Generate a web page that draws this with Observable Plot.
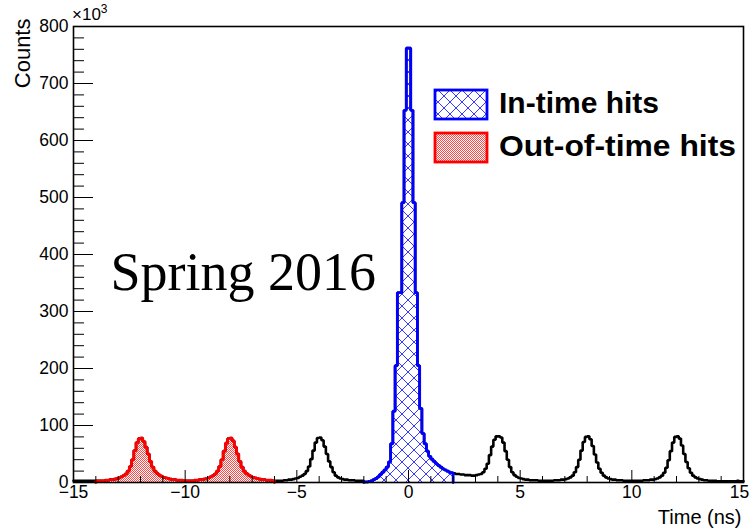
<!DOCTYPE html>
<html><head><meta charset="utf-8">
<script src="https://cdn.jsdelivr.net/npm/d3@7"></script>
<script src="https://cdn.jsdelivr.net/npm/@observablehq/plot@0.6"></script>
<style>
html,body{margin:0;padding:0;background:#fff;}
#chart{width:751px;height:530px;}
</style></head><body><div id="chart"></div>
<script>
// Histogram: 0.1 ns bins from -15 to 15 ns, counts in units of 10^3
const binStart = -15, binWidth = 0.1;
// bins -15.0 .. -14.1
const countsFarLeft = [3,3,3,3,3,3,3,3,3,3];
// bins -14.0 .. -6.1 (out-of-time window)
const countsOutOfTime = [
  3,3,3,3,4,4,5,
  5,6,7,8,10,12,15,20,28,40,56,70,77,78,72,62,50,37,27,20,16,13,11,9,8,7,6,5,5,4,4,4,3,
  3,3,3,3,4,4,5,5,6,7,
  8,10,12,15,20,28,40,55,69,77,
  78,73,62,50,37,27,20,16,13,11,
  9,8,7,6,5,5,4,4,4,3
];
// bins -6.0 .. -2.1
const countsMid = [
  3,3,3,3,4,4,5,5,6,7,
  8,10,12,15,20,28,41,56,70,78,
  79,74,63,50,37,27,18,12,9,7,
  6,5,5,4,4,4,3,3,3,3
];
// bins -2.0 .. 1.9 (in-time window)
const countsInTime = [
  1,1,2,3,5,7,10,14,18,22,
  27,36,68,125,205,333,333,491,653,762,
  762,653,491,333,205,130,86,68,55,46,
  41,37,33,30,27,24,22,20,18,17
];
// bins 2.0 .. 14.9
const countsRight = [
  16,15,15,14,14,13,13,13,12,12,
  13,14,15,18,24,33,48,63,75,81,
  81,79,70,55,40,27,18,13,10,8,
  7,6,5,5,4,4,4,4,3,3,
  3,3,3,3,3,4,4,4,5,5,
  6,7,9,12,18,27,40,56,71,80,
  81,76,64,49,35,24,17,12,9,7,
  6,5,5,4,4,4,3,3,3,3,
  3,3,3,3,3,4,4,4,5,5,
  6,7,9,12,17,26,39,55,70,80,
  81,77,65,50,36,25,17,12,9,7,
  6,5,4,4,3,3,3,3,2,2,
  2,2,2,2,2,2,2,3,2,2
];
const inTimeWindow = [-2, 2];
const outOfTimeWindow = [-14, -6];
const xMajorTicks = [-15,-10,-5,0,5,10,15];
const xMinorTicks = [-14,-13,-12,-11,-9,-8,-7,-6,-4,-3,-2,-1,1,2,3,4,6,7,8,9,11,12,13,14];
const yMajorTicks = [0,100,200,300,400,500,600,700,800];
const yMinorTicks = d3.range(0, 801, 20).filter(v => v % 100 !== 0);
const legendLabels = ["In-time hits", "Out-of-time hits"];
const annotation = "Spring 2016";

const counts = [].concat(countsFarLeft, countsOutOfTime, countsMid, countsInTime, countsRight);
const bins = counts.map((v, i) => ({
  x0: Math.round((binStart + i * binWidth) * 10) / 10,
  x1: Math.round((binStart + (i + 1) * binWidth) * 10) / 10,
  v
}));
function stepPoints(bs, closed) {
  const pts = [];
  if (closed) pts.push({x: bs[0].x0, y: 0});
  for (const b of bs) { pts.push({x: b.x0, y: b.v}); pts.push({x: b.x1, y: b.v}); }
  if (closed) pts.push({x: bs[bs.length - 1].x1, y: 0});
  return pts;
}
const inWin = (w) => (b) => b.x0 >= w[0] - 1e-9 && b.x1 <= w[1] + 1e-9;
const allPts = stepPoints(bins, false);
const inPts = stepPoints(bins.filter(inWin(inTimeWindow)), true);
const outPts = stepPoints(bins.filter(inWin(outOfTimeWindow)), true);

const W = 751, H = 530, mL = 73, mR = 8, mT = 26, mB = 48;
const plotW = W - mL - mR, plotH = H - mT - mB;
const sans = "'Liberation Sans', Arial, sans-serif";
const lastTick = xMajorTicks[xMajorTicks.length - 1];

const plot = Plot.plot({
  width: W, height: H,
  marginLeft: mL, marginRight: mR, marginTop: mT, marginBottom: mB,
  style: {fontFamily: sans, fontSize: "17.5px", background: "#fff", color: "#000", overflow: "visible"},
  x: {domain: [-15, 15]},
  y: {domain: [0, 800]},
  marks: [
    Plot.area(outPts, {x1: "x", y1: 0, y2: "y", fill: "url(#dots)"}),
    Plot.area(inPts, {x1: "x", y1: 0, y2: "y", fill: "url(#xhatch)"}),
    Plot.line(allPts, {x: "x", y: "y", stroke: "#000", strokeWidth: 2.6, strokeLinejoin: "miter"}),
    Plot.line(outPts, {x: "x", y: "y", stroke: "#ff0000", strokeWidth: 2.8, strokeLinejoin: "miter"}),
    Plot.line(inPts, {x: "x", y: "y", stroke: "#0000ff", strokeWidth: 2.8, strokeLinejoin: "miter"}),
    Plot.ruleX(xMinorTicks, {x: d => d, insetTop: plotH - 6, stroke: "#000", strokeWidth: 1}),
    Plot.ruleX(xMajorTicks, {x: d => d, insetTop: plotH - 12, stroke: "#000", strokeWidth: 1}),
    Plot.ruleY(yMinorTicks, {y: d => d, insetRight: plotW - 11, stroke: "#000", strokeWidth: 1}),
    Plot.ruleY(yMajorTicks, {y: d => d, insetRight: plotW - 20, stroke: "#000", strokeWidth: 1}),
    Plot.frame({stroke: "#000", strokeWidth: 1.6}),
    Plot.axisX(xMajorTicks.filter(t => t !== lastTick), {tickSize: 0, tickPadding: 3, label: null}),
    Plot.axisX([lastTick], {tickSize: 0, tickPadding: 3, label: null, dx: -4}),
    Plot.axisY(yMajorTicks, {tickSize: 0, tickPadding: 5, label: null}),
    Plot.text(["Time (ns)"], {frameAnchor: "bottom-right", dx: -2, dy: 41, textAnchor: "end", fontSize: 20}),
    Plot.text(["Counts"], {frameAnchor: "top-left", rotate: -90, textAnchor: "end", dx: -59, dy: -8, fontSize: 22}),
    Plot.text([annotation], {frameAnchor: "top-left", dx: 37, dy: 263, lineAnchor: "bottom", textAnchor: "start",
      fontFamily: "'Liberation Serif', 'Times New Roman', serif", fontSize: 54})
  ]
});

const svg = d3.select(plot);
const defs = svg.insert("defs", ":first-child");
const xh = defs.append("pattern").attr("id", "xhatch").attr("patternUnits", "userSpaceOnUse")
  .attr("width", 12).attr("height", 12);
xh.append("path").attr("d", "M-1,-1L13,13M13,-1L-1,13").attr("stroke", "#3a3aff").attr("stroke-width", 1).attr("fill", "none");
const dt = defs.append("pattern").attr("id", "dots").attr("patternUnits", "userSpaceOnUse")
  .attr("width", 2).attr("height", 2);
dt.append("rect").attr("x", 0).attr("y", 0).attr("width", 2).attr("height", 2).attr("fill", "#fff");
dt.append("rect").attr("x", 0).attr("y", 0).attr("width", 1).attr("height", 1).attr("fill", "#ff4a4a");
dt.append("rect").attr("x", 1).attr("y", 1).attr("width", 1).attr("height", 1).attr("fill", "#ff4a4a");

// exponent label
const ex = svg.append("text").attr("x", 72).attr("y", 20).attr("text-anchor", "start")
  .attr("font-family", sans).attr("font-size", 17).attr("fill", "#000");
ex.append("tspan").text("×10");
ex.append("tspan").attr("font-size", 12).attr("dy", -7).text("3");

// legend
const lg = svg.append("g").attr("text-anchor", "start");
const legendItems = [
  {label: legendLabels[0], fill: "url(#xhatch)", stroke: "#0000ff", y: 90, len: 160},
  {label: legendLabels[1], fill: "url(#dots)", stroke: "#ff0000", y: 133, len: 237}
];
for (const it of legendItems) {
  lg.append("rect").attr("x", 435).attr("y", it.y).attr("width", 52).attr("height", 29)
    .attr("fill", it.fill).attr("stroke", it.stroke).attr("stroke-width", 2.8);
  lg.append("text").attr("x", 499).attr("y", it.y + 23).attr("text-anchor", "start")
    .attr("font-family", sans).attr("font-weight", "bold")
    .attr("font-size", 30).attr("fill", "#000")
    .attr("textLength", it.len).attr("lengthAdjust", "spacingAndGlyphs").text(it.label);
}

document.getElementById("chart").appendChild(plot);
</script>
</body></html>
